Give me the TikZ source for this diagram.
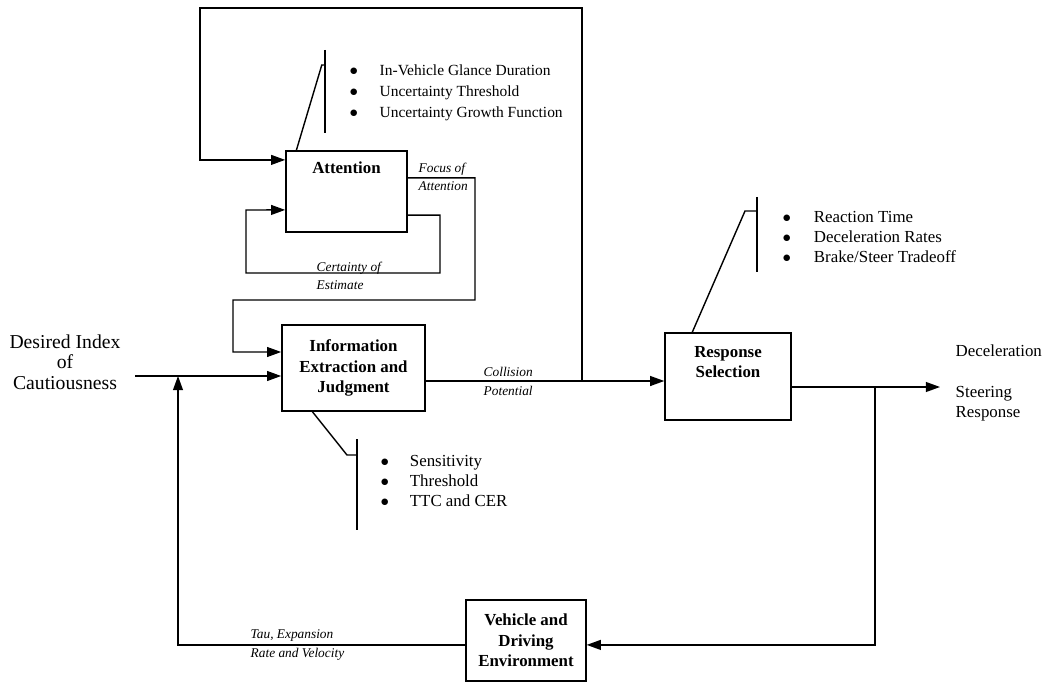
\documentclass[tikz,border=0pt]{standalone}
\usepackage{fontspec}
\setmainfont{Liberation Serif}
\usetikzlibrary{arrows.meta}
\newcommand{\lbul}[1]{\makebox[#1][l]{\large$\bullet$}}

\begin{document}
\begin{tikzpicture}[
        x=0.025cm, y=-0.025cm,
        line width=1pt,
        blk/.style={rectangle, draw, align=center, font=\fontsize{12}{14.5}\selectfont\bfseries},
        boxtxt/.style={align=center, inner sep=0pt, font=\fontsize{12}{14.5}\selectfont\bfseries},
        lst/.style={anchor=west, align=left, inner sep=0pt, font=\fontsize{12}{14.5}\selectfont},
        lbl/.style={anchor=west, align=left, inner sep=0pt, font=\fontsize{9.5}{13}\selectfont\itshape},
        arr/.style={-{Triangle[length=10pt, width=7pt]}}
    ]
    \useasboundingbox (0,0) rectangle (1052,684);

    \node[blk, minimum width=3.03cm, minimum height=2.03cm] (attn) at (346.5,191.5) {};
    \node[boxtxt] (attntxt) at (346.5,168) {Attention};
    \node[blk, minimum width=3.58cm, minimum height=2.15cm] (info) at (353.5,368) {Information\\Extraction and\\Judgment};
    \node[blk, minimum width=3.15cm, minimum height=2.18cm] (resp) at (728,376.5) {};
    \node[boxtxt] (resptxt) at (728,362) {Response\\Selection};
    \node[blk, minimum width=3cm, minimum height=2.03cm] (veh) at (526,640.5) {Vehicle and\\Driving\\Environment};

    \node[align=center, font=\fontsize{14}{14.5}\selectfont] (desired) at (65,362) {Desired Index\\of\\Cautiousness};
    \node[lst] (outtxt) at (955,383) {Deceleration\\[14.5pt]Steering\\Response};

    \node[lst, font=\fontsize{11}{14.8}\selectfont] (attnlist) at (349,93) {\lbul{0.75cm}In-Vehicle Glance Duration\\\lbul{0.75cm}Uncertainty Threshold\\\lbul{0.75cm}Uncertainty Growth Function};
    \node[lst] (resplist) at (782,237) {\lbul{0.78cm}Reaction Time\\\lbul{0.78cm}Deceleration Rates\\\lbul{0.78cm}Brake/Steer Tradeoff};
    \node[lst] (infolist) at (380,481) {\lbul{0.73cm}Sensitivity\\\lbul{0.73cm}Threshold\\\lbul{0.73cm}TTC and CER};

    \coordinate (tap) at (582,381);
    \coordinate (din) at (135,376);
    \coordinate (fjoin) at (178,376);
    \coordinate (dout) at (940,387);
    \coordinate (ftap) at (875,387);
    \coordinate (abar) at (325,65);
    \coordinate (rbar) at (757,211);
    \coordinate (ibar) at (357,455);

    \draw[arr] (din) -- (info.west |- din);
    \draw[arr] (info.east |- tap) -- (resp.west |- tap);
    \draw[arr] (resp.east |- dout) -- (dout);
    \draw[arr] (tap) |- (200,8) |- ([yshift=0.79cm]attn.west);
    \draw[arr] ([yshift=-0.59cm]attn.east) -| (440,273) -| (246,210) -- ([yshift=-0.46cm]attn.west);
    \draw[arr] ([yshift=0.34cm]attn.east) -| (475,300) -| (233,352) -- ([yshift=0.4cm]info.west);
    \draw[arr] (ftap) |- ([yshift=-0.11cm]veh.east);
    \draw[arr] ([yshift=-0.11cm]veh.west) -| (fjoin);

    \draw ([xshift=0.28cm]attn.north west) -- ([xshift=-0.08cm]abar) -- (abar);
    \draw ([yshift=0.38cm]abar) -- ([yshift=-1.7cm]abar);
    \draw ([xshift=0.7cm]resp.north west) -- ([xshift=-0.3cm]rbar) -- (rbar);
    \draw ([yshift=0.35cm]rbar) -- ([yshift=-1.53cm]rbar);
    \draw ([xshift=0.78cm]info.south west) -- ([xshift=-0.25cm]ibar) -- (ibar);
    \draw ([yshift=0.4cm]ibar) -- ([yshift=-1.88cm]ibar);

    \node[lbl] (focuslbl) at (418,177) {Focus of\\Attention};
    \node[lbl] (certlbl) at (316,276) {Certainty of\\Estimate};
    \node[lbl] (colllbl) at (483,381.5) {Collision\\Potential};
    \node[lbl] (taulbl) at (250,645) {Tau, Expansion\\Rate and Velocity};
\end{tikzpicture}
\end{document}
